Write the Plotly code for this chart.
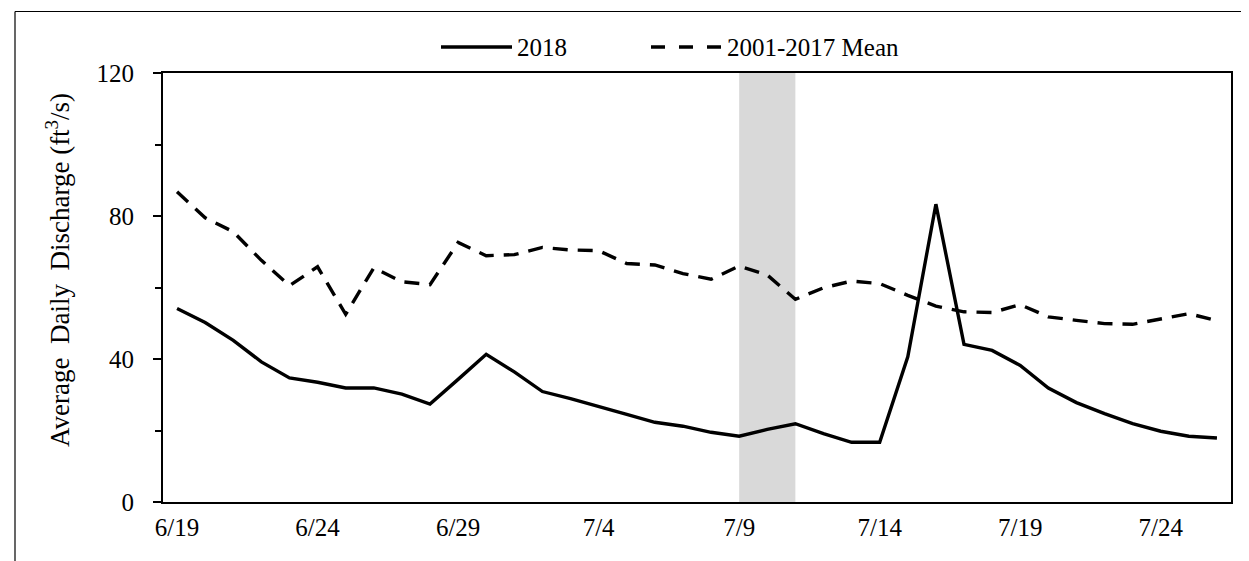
import plotly.graph_objects as go

# ---------------- data ----------------
dates = ["6/19", "6/20", "6/21", "6/22", "6/23", "6/24", "6/25", "6/26", "6/27", "6/28",
         "6/29", "6/30", "7/1", "7/2", "7/3", "7/4", "7/5", "7/6", "7/7", "7/8",
         "7/9", "7/10", "7/11", "7/12", "7/13", "7/14", "7/15", "7/16", "7/17", "7/18",
         "7/19", "7/20", "7/21", "7/22", "7/23", "7/24", "7/25", "7/26"]

flow_2018 = [54.1, 50.2, 45.2, 39.2, 34.7, 33.5, 31.9, 31.9, 30.2, 27.4,
             34.3, 41.3, 36.4, 30.9, 28.9, 26.8, 24.5, 22.3, 21.2, 19.5,
             18.4, 20.3, 21.9, 19.1, 16.7, 16.7, 40.6, 83.3, 44.1, 42.4,
             38.2, 31.9, 27.8, 24.7, 21.9, 19.8, 18.4, 17.9]

flow_mean = [86.8, 79.5, 75.6, 67.6, 60.5, 65.8, 52.5, 65.5, 61.6, 60.8,
             72.6, 68.9, 69.2, 71.2, 70.5, 70.3, 66.7, 66.3, 63.9, 62.3,
             66.0, 63.5, 56.7, 59.9, 61.8, 61.1, 57.8, 54.8, 53.2, 53.0,
             55.2, 51.8, 50.8, 49.9, 49.7, 51.1, 52.7, 50.7]

tick_labels = ["6/19", "6/24", "6/29", "7/4", "7/9", "7/14", "7/19", "7/24"]
y_ticks = [0, 40, 80, 120]
band_start, band_end = "7/9", "7/11"
series_names = ["2018", "2001-2017 Mean"]
y_title = "Average\u00a0 Daily\u00a0 Discharge (ft<sup>3</sup>/s)"

# ---------------- layout geometry ----------------
W, H = 1249, 561
L, R, T, B = 155, 26, 65, 67
PW, PH = W - L - R, H - T - B
FONT = "Liberation Serif, Times New Roman, serif"
FS = 25


def px_x(p):
    return (p - L) / PW


def px_y(p):
    return (H - B - p) / PH


idx = list(range(len(dates)))
n = len(dates)
xr = [-0.5, n - 0.5]
DASH = "15px,10px"

fig = go.Figure()

fig.add_trace(go.Scatter(x=idx, y=flow_2018, mode="lines", name=series_names[0],
                         line=dict(color="black", width=3.4), showlegend=False))
fig.add_trace(go.Scatter(x=idx, y=flow_mean, mode="lines", name=series_names[1],
                         line=dict(color="black", width=3.4, dash=DASH),
                         showlegend=False))

# grey band
fig.add_shape(type="rect", xref="x", yref="y",
              x0=dates.index(band_start), x1=dates.index(band_end),
              y0=0, y1=120, fillcolor="#d9d9d9", line=dict(width=0), layer="below")

# legend (manual)
ly = px_y(39)
fig.add_shape(type="line", xref="paper", yref="paper", x0=px_x(433), x1=px_x(504),
              y0=ly, y1=ly, line=dict(color="black", width=3.4))
fig.add_shape(type="line", xref="paper", yref="paper", x0=px_x(643), x1=px_x(714),
              y0=ly, y1=ly, line=dict(color="black", width=3.4, dash="14px,14px"))
fig.add_annotation(xref="paper", yref="paper", x=px_x(507), y=ly, text=series_names[0],
                   showarrow=False, xanchor="left", yanchor="middle",
                   font=dict(family=FONT, size=FS, color="black"))
fig.add_annotation(xref="paper", yref="paper", x=px_x(717), y=ly, text=series_names[1],
                   showarrow=False, xanchor="left", yanchor="middle",
                   font=dict(family=FONT, size=FS, color="black"))

# y-axis title
fig.add_annotation(xref="paper", yref="paper", x=px_x(50), y=px_y(262), text=y_title,
                   textangle=-90, showarrow=False, xanchor="center", yanchor="middle",
                   font=dict(family=FONT, size=27, color="black"))

# outer frame (left and top)
fig.add_shape(type="line", xref="paper", yref="paper", x0=px_x(7), x1=px_x(7),
              y0=px_y(3.5), y1=px_y(H + 2), line=dict(color="black", width=1.2))
fig.add_shape(type="line", xref="paper", yref="paper", x0=px_x(7), x1=px_x(W + 2),
              y0=px_y(3.5), y1=px_y(3.5), line=dict(color="black", width=1.2))

boundaries_major = [b - 0.5 for b in range(0, n, 5)]

fig.update_layout(
    width=W, height=H,
    margin=dict(l=L, r=R, t=T, b=B, autoexpand=False),
    paper_bgcolor="white", plot_bgcolor="white",
    font=dict(family=FONT, size=FS, color="black"),
    showlegend=False,
    xaxis=dict(range=xr, autorange=False, tickmode="array",
               tickvals=[dates.index(t) for t in tick_labels], ticktext=tick_labels,
               ticks="", ticklabelstandoff=2,
               showline=True, linecolor="black", linewidth=2, mirror=True,
               showgrid=False, zeroline=False,
               tickfont=dict(family=FONT, size=FS, color="black")),
    xaxis2=dict(range=xr, autorange=False, overlaying="x", anchor="y", side="bottom",
                tickmode="array", tickvals=boundaries_major, ticks="outside",
                ticklen=7, tickwidth=2, tickcolor="black", showticklabels=False,
                minor=dict(tickmode="linear", tick0=-0.5, dtick=1, ticks="outside",
                           ticklen=6, tickwidth=1.5, tickcolor="black"),
                showline=False, showgrid=False, zeroline=False),
    xaxis3=dict(range=xr, autorange=False, overlaying="x", anchor="y", side="bottom",
                tickmode="array", tickvals=boundaries_major, ticks="inside",
                ticklen=7, tickwidth=2, tickcolor="black", showticklabels=False,
                showline=False, showgrid=False, zeroline=False),
    yaxis=dict(range=[0, 120], autorange=False, tickmode="array", tickvals=y_ticks,
               ticks="outside", ticklen=8, tickwidth=2, tickcolor="black",
               ticklabelstandoff=14,
               minor=dict(tickmode="linear", tick0=0, dtick=20, ticks="outside",
                          ticklen=6, tickwidth=1.5, tickcolor="black"),
               showline=True, linecolor="black", linewidth=2, mirror=True,
               showgrid=False, zeroline=False,
               tickfont=dict(family=FONT, size=FS, color="black")),
)

fig.write_html("out.html")
